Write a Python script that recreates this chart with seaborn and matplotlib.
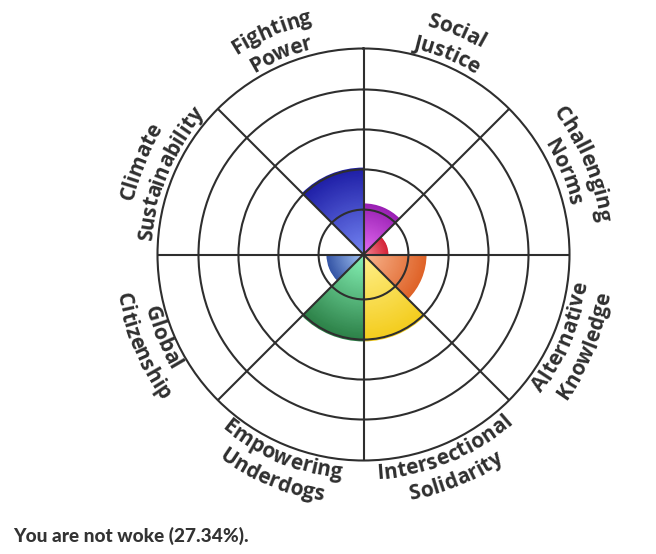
import numpy as np
import matplotlib
matplotlib.use("Agg")
import matplotlib.pyplot as plt
import seaborn as sns
from matplotlib.font_manager import FontProperties

# ---------------- data ----------------
categories = ["Social Justice", "Challenging Norms", "Alternative Knowledge",
              "Intersectional Solidarity", "Empowering Underdogs", "Global Citizenship",
              "Climate Sustainability", "Fighting Power"]
label_lines = [["Social", "Justice"], ["Challenging", "Norms"], ["Alternative", "Knowledge"],
               ["Intersectional", "Solidarity"], ["Empowering", "Underdogs"],
               ["Global", "Citizenship"], ["Climate", "Sustainability"], ["Fighting", "Power"]]
scores = [24.8, 12.1, 30.6, 42.2, 42.2, 18.0, 0.0, 42.2]     # % of outer ring
ring_levels = [21.8, 41.3, 60.7, 80.1, 100.0]
inner_colors = ["#e36cf2", "#f58593", "#f8b58f", "#fff08c", "#86f2b6", "#a6c6f6", "#cccccc", "#7484f2"]
outer_colors = ["#9a20b4", "#d42338", "#df6328", "#f3cc1c", "#2b7f46", "#3555a6", "#888888", "#1e1ea6"]
summary = "You are not woke (27.34%)."

# ---------------- figure ----------------
sns.set_theme(style="white")
W_PX, H_PX = 656, 554
fig = plt.figure(figsize=(W_PX / 100, H_PX / 100), dpi=100)
fig.patch.set_facecolor("white")

cx, cy, R = 363.5, 254.5, 206.0
ax = fig.add_axes([(cx - R) / W_PX, (H_PX - cy - R) / H_PX, 2 * R / W_PX, 2 * R / H_PX],
                  projection="polar")
ax.set_facecolor("white")
ax.set_theta_zero_location("N")
ax.set_theta_direction(-1)
ax.set_ylim(0, ring_levels[-1])

n = len(categories)
width = 2 * np.pi / n
theta = np.arange(n) * width + width / 2

# gradient wedges: stacked shrinking bars, dark outside -> light inside
N = 60
for i in range(n):
    v = scores[i]
    if v <= 0:
        continue
    pal = sns.blend_palette([outer_colors[i], inner_colors[i]], n_colors=N)
    for k in range(N):
        h = v * (N - k) / N
        ax.bar(theta[i], h, width=width, color=pal[k], linewidth=0, zorder=1)

line_col = "#2e2e2e"
ax.set_xticks(np.arange(n) * width)
ax.set_yticks(ring_levels[:-1])
ax.set_xticklabels([])
ax.set_yticklabels([])
ax.set_axisbelow(False)
ax.grid(True, color=line_col, linewidth=1.5)
ax.spines["polar"].set_color(line_col)
ax.spines["polar"].set_linewidth(1.5)
ax.tick_params(length=0, pad=0)

# ---------------- curved labels ----------------
fp = FontProperties(family="Open Sans", weight="bold", size=15)
txt_col = "#2f2f2f"
fig.canvas.draw()
renderer = fig.canvas.get_renderer()
em = 15 * 100 / 72.0


def text_w(s, prop):
    if not s:
        return 0.0
    return renderer.get_text_width_height_descent(s, prop, ismath=False)[0]


def curved_text(s, theta_c, rb, top):
    cum = [text_w(s[:j], fp) for j in range(len(s) + 1)]
    total = cum[-1]
    r_mid = rb + 0.27 * em if top else rb - 0.27 * em
    for j, ch in enumerate(s):
        off = ((cum[j] + cum[j + 1]) / 2 - total / 2) / r_mid
        th = theta_c + off if top else theta_c - off
        rot = -np.degrees(th) if top else 180 - np.degrees(th)
        x = 0.5 + rb * np.sin(th) / (2 * R)
        y = 0.5 + rb * np.cos(th) / (2 * R)
        ax.text(x, y, ch, transform=ax.transAxes, rotation=rot, rotation_mode="anchor",
                ha="center", va="baseline", fontproperties=fp, color=txt_col, clip_on=False)


for i in range(n):
    tc = theta[i]
    deg = np.degrees(tc) % 360
    top = deg < 90 or deg > 270
    l1, l2 = label_lines[i]
    if top:
        curved_text(l1, tc, 237, True)
        curved_text(l2, tc, 212, True)
    else:
        curved_text(l1, tc, 225, False)
        curved_text(l2, tc, 250, False)

# ---------------- summary text ----------------
fp2 = FontProperties(family="Lato", weight="black", size=10)
w10 = text_w(summary, fp2)
fp2.set_size(10 * 235 / w10)
fig.text(13 / W_PX, 1 - 542 / H_PX, summary, fontproperties=fp2, color="#333333",
         ha="left", va="baseline")

fig.savefig("out.png", dpi=100, facecolor="white")
